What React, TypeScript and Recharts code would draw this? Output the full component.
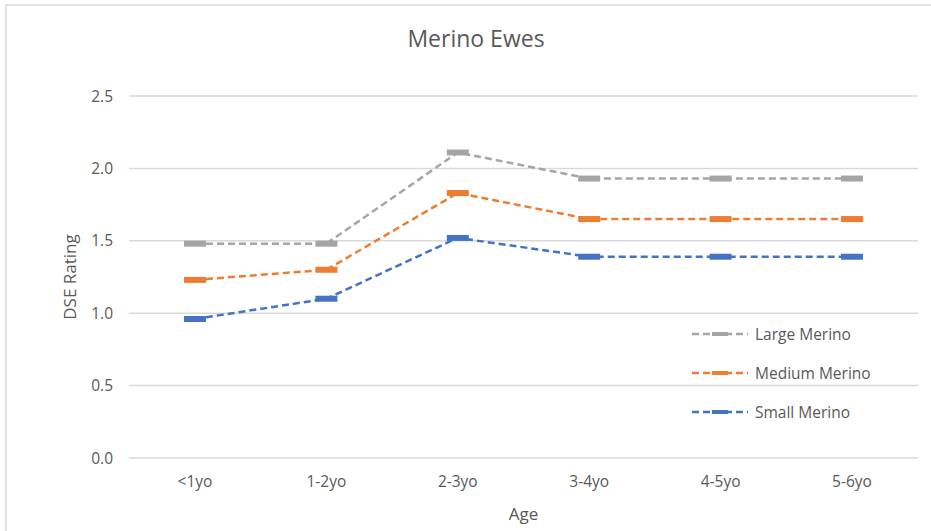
import React from 'react';
import { LineChart, Line, XAxis, YAxis, CartesianGrid } from 'recharts';

// Age groups along the x axis
const ages = ['<1yo', '1-2yo', '2-3yo', '3-4yo', '4-5yo', '5-6yo'];

// DSE rating per age group for each frame size
const largeMerino = [1.48, 1.48, 2.11, 1.93, 1.93, 1.93];
const mediumMerino = [1.23, 1.3, 1.83, 1.65, 1.65, 1.65];
const smallMerino = [0.96, 1.1, 1.52, 1.39, 1.39, 1.39];

const yTicks = [0, 0.5, 1, 1.5, 2, 2.5];

const series = [
  { key: 'large', name: 'Large Merino', color: '#A5A5A5' },
  { key: 'medium', name: 'Medium Merino', color: '#ED7D31' },
  { key: 'small', name: 'Small Merino', color: '#4472C4' },
];

const data = ages.map((age, i) => ({
  age,
  large: largeMerino[i],
  medium: mediumMerino[i],
  small: smallMerino[i],
}));

const FONT = '"Open Sans", sans-serif';
const TEXT = '#595959';

// Excel-style flat dash marker
const DashMarker = (color: string) => (props: any) => {
  const { cx, cy, index } = props;
  if (cx == null || cy == null) return <g key={index} />;
  return (
    <rect key={index} x={cx - 11} y={cy - 3} width={22} height={6} fill={color} />
  );
};

const ChartLegend = () => (
  <div
    style={{
      position: 'absolute',
      left: 692,
      top: 314,
      fontFamily: FONT,
      fontSize: 15.5,
      color: TEXT,
    }}
  >
    {series.map((s) => (
      <div
        key={s.key}
        style={{ display: 'flex', alignItems: 'center', height: 39 }}
      >
        <svg width={58} height={10} style={{ marginRight: 5 }}>
          <line
            x1={0}
            y1={5}
            x2={56}
            y2={5}
            stroke={s.color}
            strokeWidth={2.5}
            strokeDasharray="7 4"
          />
          <rect x={20} y={3} width={16} height={4} fill={s.color} />
        </svg>
        <span>{s.name}</span>
      </div>
    ))}
  </div>
);

export default function App() {
  return (
    <div
      style={{
        position: 'absolute',
        left: 0,
        top: 0,
        width: 931,
        height: 531,
        background: '#fff',
        overflow: 'hidden',
      }}
    >
      {/* chart frame */}
      <div
        style={{
          position: 'absolute',
          left: 5,
          top: 4,
          width: 940,
          height: 540,
          border: '2px solid #E3E3E3',
        }}
      />
      <div
        style={{
          position: 'absolute',
          left: 0,
          top: 22,
          width: 952,
          textAlign: 'center',
          fontFamily: FONT,
          fontSize: 23,
          color: TEXT,
        }}
      >
        Merino Ewes
      </div>
      <LineChart
        width={931}
        height={531}
        data={data}
        margin={{ top: 96, right: 13, bottom: 0, left: 0 }}
        style={{ position: 'absolute', left: 0, top: 0 }}
      >
        <CartesianGrid vertical={false} stroke="#D9D9D9" strokeWidth={1.5} />
        <XAxis
          dataKey="age"
          axisLine={false}
          tickLine={false}
          tickSize={0}
          tickMargin={18}
          height={73}
          padding={{ left: 66, right: 66 }}
          tick={{ fill: TEXT, fontSize: 15.5, fontFamily: FONT }}
          label={{
            value: 'Age',
            position: 'insideBottom',
            offset: 11,
            fill: TEXT,
            fontSize: 17,
            fontFamily: FONT,
          }}
        />
        <YAxis
          domain={[0, 2.5]}
          ticks={yTicks}
          tickFormatter={(v: number) => v.toFixed(1)}
          axisLine={false}
          tickLine={false}
          tickSize={0}
          tickMargin={16}
          width={129}
          tick={{ fill: TEXT, fontSize: 15.5, fontFamily: FONT }}
          label={{
            value: 'DSE Rating',
            angle: -90,
            position: 'insideLeft',
            offset: 70,
            fill: TEXT,
            fontSize: 17,
            fontFamily: FONT,
            style: { textAnchor: 'middle' },
          }}
        />
        {series.map((s) => (
          <Line
            key={s.key}
            type="linear"
            dataKey={s.key}
            name={s.name}
            stroke={s.color}
            strokeWidth={2.5}
            strokeDasharray="7 4"
            dot={DashMarker(s.color)}
            activeDot={false}
            isAnimationActive={false}
          />
        ))}
      </LineChart>
      <ChartLegend />
    </div>
  );
}
